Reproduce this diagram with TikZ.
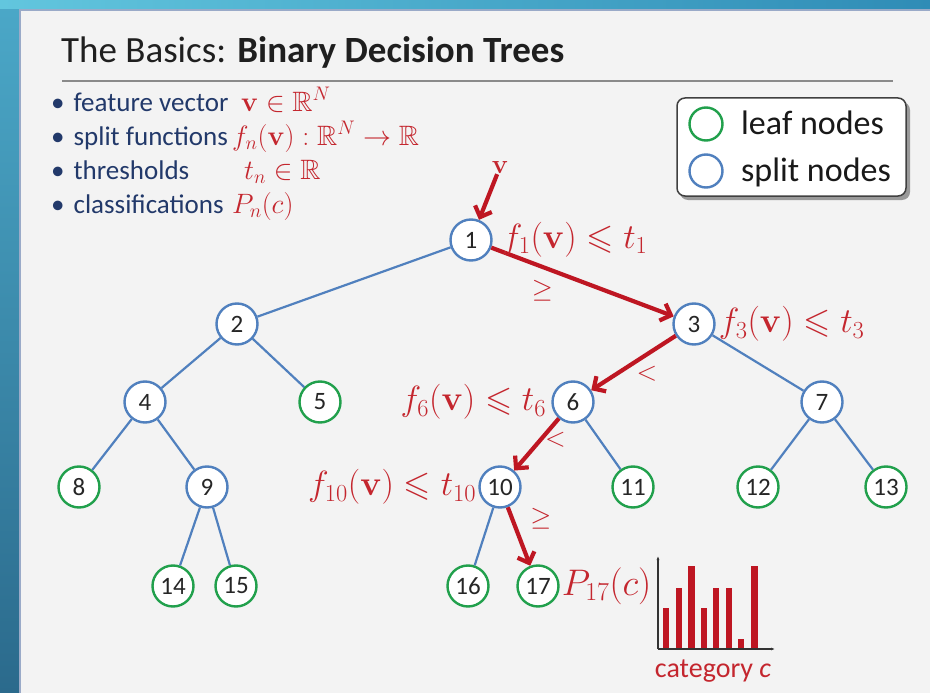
\documentclass[tikz,border=0pt]{standalone}
\usepackage{fix-cm}
\usepackage{amsmath,amssymb}
\usepackage[no-math]{fontspec}
\setmainfont{Carlito}
\usepackage{xcolor}
\definecolor{slidebg}{HTML}{F3F3F3}
\definecolor{slideedge}{HTML}{9AAAC8}
\definecolor{frametop}{HTML}{4BA8C8}
\definecolor{framebot}{HTML}{2B6A8C}
\definecolor{stripleft}{HTML}{62C6DE}
\definecolor{stripright}{HTML}{2F8CB6}
\definecolor{textnavy}{HTML}{22396A}
\definecolor{mathred}{HTML}{C4262E}
\definecolor{arrowred}{HTML}{BE1622}
\definecolor{splitblue}{HTML}{5080BE}
\definecolor{leafgreen}{HTML}{21A04C}
\definecolor{rulegrey}{HTML}{8A8A8A}
\usetikzlibrary{arrows.meta,positioning,calc}

\begin{document}
\begin{tikzpicture}[x=1pt, y=-1pt,
    split/.style={circle, draw=splitblue, fill=white, line width=2.4pt, minimum size=41pt, inner sep=0pt, font=\fontsize{25}{25}\selectfont, text=black!85},
    leaf/.style={split, draw=leafgreen},
    branch/.style={splitblue, line width=2.2pt},
    taken/.style={arrowred, line width=4.2pt, -{Straight Barb[length=9pt,width=18pt]}},
    testlbl/.style={text=mathred, inner sep=1pt, font=\fontsize{35}{35}\selectfont},
    cmplbl/.style={text=mathred, inner sep=1pt, font=\fontsize{27}{27}\selectfont},
    item/.style={text=textnavy, font=\fontsize{27}{27}\selectfont, anchor=base west, inner sep=0pt},
    sym/.style={text=mathred, font=\fontsize{28}{28}\selectfont, anchor=base west, inner sep=0pt},
    legtext/.style={font=\fontsize{34}{34}\selectfont, text=black!90, inner sep=0pt, anchor=base west}
  ]
    \useasboundingbox (0,0) rectangle (930,693);
    % slide frame
    \shade[top color=frametop, bottom color=framebot] (0,0) rectangle (19,693);
    \shade[left color=stripleft, right color=stripright] (0,0) rectangle (930,9);
    \fill[slidebg] (19,9) rectangle (930,693);
    \draw[slideedge, line width=1.5pt] (20,693) -- (20,10) -- (930,10);

    % title
    \node[anchor=base west, inner sep=0pt, font=\fontsize{37}{37}\selectfont, text=black!88] (title) at (61,63) {The Basics: \textbf{Binary Decision Trees}};
    \draw[rulegrey, line width=2.5pt] (62,81) -- (893,81);

    % definitions
    \foreach \yy/\term/\mx/\sym [count=\i] in {
      111/feature vector/241/{$\mathbf{v}\in\mathbb{R}^N$},
      145/split functions/232/{$f_n(\mathbf{v}):\mathbb{R}^N\to\mathbb{R}$},
      179/thresholds/244/{$t_n\in\mathbb{R}$},
      213/classifications/232/{$P_n(c)$}} {
      \node[item] (item\i) at (51,\yy) {\textbullet\hspace{9pt}\term};
      \node[sym] (sym\i) at (\mx,\yy) {\sym};
    }

    % legend
    \fill[black!40, rounded corners=8pt] (680,102) rectangle (910,200);
    \draw[black!75, fill=white, line width=1.5pt, rounded corners=8pt] (677,98) rectangle (906,196);
    \node[leaf, minimum size=33pt] (legleaf) at (706,124) {};
    \node[split, minimum size=33pt] (legsplit) at (706,171) {};
    \node[legtext] (legleaftxt) at (741,135) {leaf nodes};
    \node[legtext] (legsplittxt) at (741,181) {split nodes};

    % tree
    \foreach \n/\x/\y/\kind in {
      1/471/240/split, 2/237/324/split, 3/694/324/split,
      4/145/402/split, 5/320/402/leaf, 6/573/402/split, 7/822/402/split,
      8/79/487/leaf, 9/207/487/split, 10/500/487/split, 11/633/487/leaf,
      12/758/487/leaf, 13/886/487/leaf,
      14/173/586/leaf, 15/236/586/leaf, 16/468/586/leaf, 17/538/586/leaf} {
      \node[\kind] (n\n) at (\x,\y) {\n};
    }
    \foreach \a/\b in {1/2,2/4,2/5,4/8,4/9,9/14,9/15,3/7,6/11,7/12,7/13,10/16}
      \draw[branch] (n\a) -- (n\b);

    % path of v
    \node[cmplbl] (vin) at (500,167) {$\mathbf{v}$};
    \draw[taken] (vin) -- (n1);
    \draw[taken] (n1) -- node[cmplbl, pos=0.28, below=10pt] (ge1) {$\geq$} (n3);
    \draw[taken] (n3) -- node[cmplbl, midway, below right=0pt] (lt3) {$<$} (n6);
    \draw[taken] (n6) -- node[cmplbl, pos=0.4, right=1pt] (lt6) {$<$} (n10);
    \draw[taken] (n10) -- node[cmplbl, pos=0.2, right=15pt] (ge10) {$\geq$} (n17);

    \node[testlbl, right=8pt of n1] (test1) {$f_1(\mathbf{v})\leqslant t_1$};
    \node[testlbl, right=2pt of n3] (test3) {$f_3(\mathbf{v})\leqslant t_3$};
    \node[testlbl, left=4pt of n6] (test6) {$f_6(\mathbf{v})\leqslant t_6$};
    \node[testlbl, left=1pt of n10] (test10) {$f_{10}(\mathbf{v})\leqslant t_{10}$};
    \node[testlbl, right=1pt of n17, font=\fontsize{37}{37}\selectfont] (dist17) {$P_{17}(c)$};

    % histogram
    \foreach \bx/\by in {666/608, 679/588, 691.5/566, 704/608, 716/588, 729/588, 741/639, 754.5/566}
      \fill[arrowred] (\bx-3.3,649) rectangle (\bx+3.3,\by);
    \draw[black!80, line width=1.4pt, -{Latex[length=4pt,width=3pt]}] (658,649) -- (658,556);
    \draw[black!80, line width=1.4pt, -{Latex[length=4pt,width=3pt]}] (658,649) -- (775,649);
    \node[font=\fontsize{28}{28}\selectfont, text=mathred] (catlbl) at (713,671) {category \textit{c}};
  \end{tikzpicture}
\end{document}
